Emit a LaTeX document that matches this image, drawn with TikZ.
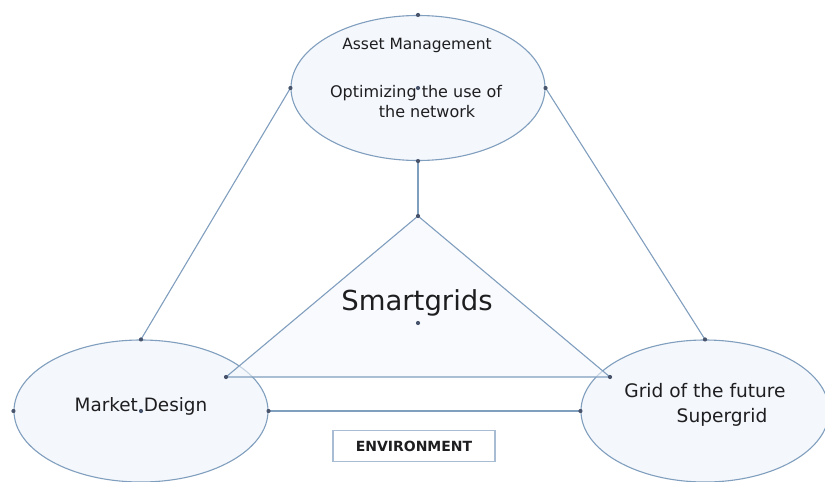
\documentclass[tikz,border=0pt]{standalone}
\usepackage{fontspec}
\setmainfont{DejaVu Sans}
\usepackage{tikz}
\usetikzlibrary{shapes.geometric, positioning}
\usepackage{xcolor}
\definecolor{rimblue}{RGB}{128,158,190}
\definecolor{pinblue}{RGB}{72,84,108}
\definecolor{paleblue}{RGB}{244,247,251}
\definecolor{boxrim}{RGB}{168,188,212}
\definecolor{inkgray}{RGB}{30,30,32}

\begin{document}
\begin{tikzpicture}[x=1pt, y=-1pt,
    bubble/.style={ellipse, draw=rimblue, line width=1.1pt, fill=paleblue,
        minimum width=254pt, minimum height=142pt, inner sep=0pt},
    link/.style={rimblue, line width=1.1pt},
    lbl/.style={text=inkgray, inner sep=0pt, anchor=base}]
    \useasboundingbox (0,0) rectangle (825,482);

    % the three ellipses
    \node[bubble, minimum height=145pt] (asset) at (418,88) {};
    \node[bubble] (market) at (141,411) {};
    \node[bubble, minimum width=248pt] (future) at (705,411) {};

    % triangle in the middle
    \coordinate (apex) at (418,216);
    \coordinate (baseL) at (226,377);
    \coordinate (baseR) at (610,377);
    \coordinate (mid) at (418,323);
    \fill[paleblue, opacity=0.6] (apex) -- (baseL) -- (baseR) -- cycle;
    \draw[link, line join=round] (apex) -- (baseL) -- (baseR) -- cycle;

    % connectors
    \draw[link] (asset.south) -- (apex);
    \draw[link] (asset.west) -- (market.north);
    \draw[link] (asset.east) -- (future.north);
    \draw[link] (market.east) -- (future.west);

    % handle dots
    \foreach \p in {asset.north, asset.south, asset.west, asset.east, asset.center,
                    market.north, market.west, market.east, market.center,
                    future.north, future.west, apex, baseL, baseR, mid}
        \fill[pinblue] (\p) circle (2.1pt);

    % labels
    \node[lbl, font=\fontsize{15.5}{18}\selectfont] (assettitle) at (417,49) {Asset Management};
    \node[lbl, font=\fontsize{16}{19}\selectfont] (assetnote) at (416,97) {Optimizing the use of};
    \node[lbl, font=\fontsize{16}{19}\selectfont] (assetnote2) at (427,117) {the network};
    \node[lbl, font=\fontsize{27.5}{32}\selectfont] (smart) at (417,310) {Smartgrids};
    \node[lbl, font=\fontsize{18.4}{22}\selectfont] (markettext) at (141,411) {Market Design};
    \node[lbl, font=\fontsize{18.6}{22}\selectfont] (futuretext) at (705,397) {Grid of the future};
    \node[lbl, font=\fontsize{18.6}{22}\selectfont] (supertext) at (722,422) {Supergrid};

    % environment box
    \node[draw=boxrim, line width=1.3pt, fill=white, minimum width=162pt, minimum height=31pt,
        text=inkgray, font=\bfseries\fontsize{14}{16}\selectfont] (env) at (414,446) {ENVIRONMENT};
\end{tikzpicture}
\end{document}
